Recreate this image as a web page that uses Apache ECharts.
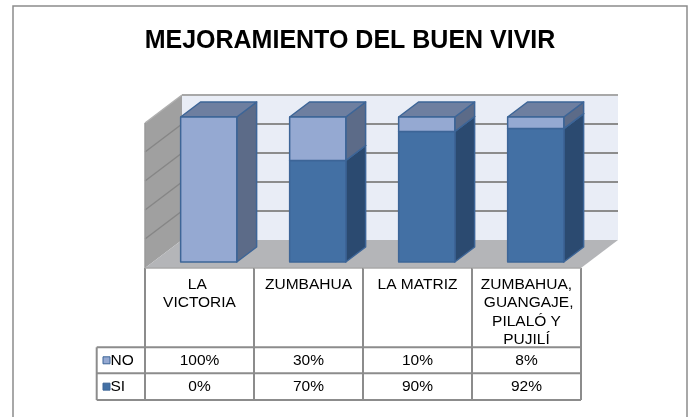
<!DOCTYPE html>
<html>
<head>
<meta charset="utf-8">
<style>html,body{margin:0;padding:0;background:#fff;}#c{width:692px;height:417px;}</style>
<script src="https://cdn.jsdelivr.net/npm/echarts@6/dist/echarts.min.js"></script>
</head>
<body>
<div id="c"></div>
<script>
const titleText = 'MEJORAMIENTO DEL BUEN VIVIR';
const categories = ['LA VICTORIA', 'ZUMBAHUA', 'LA MATRIZ', 'ZUMBAHUA, GUANGAJE, PILALÓ Y PUJILÍ'];
const seriesNames = ['NO', 'SI'];
const noValues = [100, 30, 10, 8];
const siValues = [0, 70, 90, 92];
const yTicks = [0, 20, 40, 60, 80, 100];

const FONT = '"Liberation Sans", Arial, sans-serif';
const D = { x: 37, y: -28 };      // full depth vector of the 3D box
const f0 = 0.214, f1 = 0.75;      // bar depth (front / back) as fraction of box depth
const barFrac = 0.515;
const colors = {
  NO: { front: '#95a9d2', right: '#5c6b88', top: '#6e7fa0' },
  SI: { front: '#4370a4', right: '#2b4a70', top: '#35598a' }
};
const edge = '#3d6597';
const tableLine = '#8c8c8c';

const chart = echarts.init(document.getElementById('c'), null, { renderer: 'canvas' });

function bounds(api) {
  const bw = api.size([1, 0])[0];
  const x0 = api.coord([0, 0])[0] - bw / 2;
  const x1 = api.coord([categories.length - 1, 0])[0] + bw / 2;
  const yb = api.coord([0, yTicks[0]])[1];
  const yt = api.coord([0, yTicks[yTicks.length - 1]])[1];
  return { bw, x0, x1, yb, yt };
}

function renderWalls(params, api) {
  const b = bounds(api);
  const ch = [];
  ch.push({ type: 'polygon', shape: { points: [[b.x0 + D.x, b.yt + D.y], [b.x1 + D.x, b.yt + D.y], [b.x1 + D.x, b.yb + D.y], [b.x0 + D.x, b.yb + D.y]] }, style: { fill: '#e9edf6' } });
  ch.push({ type: 'polygon', shape: { points: [[b.x0, b.yt], [b.x0 + D.x, b.yt + D.y], [b.x0 + D.x, b.yb + D.y], [b.x0, b.yb]] }, style: { fill: '#a0a0a0' } });
  ch.push({ type: 'polygon', shape: { points: [[b.x0, b.yb], [b.x1, b.yb], [b.x1 + D.x, b.yb + D.y], [b.x0 + D.x, b.yb + D.y]] }, style: { fill: '#b4b5b8' } });
  yTicks.forEach(v => {
    if (v === yTicks[0]) return;
    const y = api.coord([0, v])[1];
    const isTop = v === yTicks[yTicks.length - 1];
    ch.push({ type: 'line', shape: { x1: b.x0 + D.x, y1: y + D.y, x2: b.x1 + D.x, y2: y + D.y }, style: { stroke: isTop ? '#a8a8a8' : '#8c8c8c', lineWidth: 2 } });
    ch.push({ type: 'line', shape: { x1: b.x0, y1: y, x2: b.x0 + D.x, y2: y + D.y }, style: { stroke: isTop ? '#b0b0b0' : '#868686', lineWidth: 1.5 } });
  });
  ch.push({ type: 'line', shape: { x1: b.x0, y1: b.yt, x2: b.x0, y2: b.yb }, style: { stroke: '#9a9a9a', lineWidth: 1.5 } });
  return { type: 'group', children: ch };
}

function makeBarRenderer(name) {
  return function (params, api) {
    const i = api.value(0);
    const val = api.value(1);
    if (!(val > 0)) return null;
    const base = name === 'SI' ? 0 : siValues[i];
    const top = base + val;
    const b = bounds(api);
    const xc = api.coord([i, 0])[0];
    const w = b.bw * barFrac;
    const xl = xc - w / 2 + f0 * D.x + 1.3;
    const xr = xl + w;
    const yB = api.coord([i, base])[1] + f0 * D.y;
    const yT = api.coord([i, top])[1] + f0 * D.y;
    const ddx = (f1 - f0) * D.x, ddy = (f1 - f0) * D.y;
    const c = colors[name];
    const st = { stroke: edge, lineWidth: 1.5, lineJoin: 'round' };
    return {
      type: 'group', children: [
        { type: 'polygon', shape: { points: [[xr, yT], [xr + ddx, yT + ddy], [xr + ddx, yB + ddy], [xr, yB]] }, style: Object.assign({ fill: c.right }, st) },
        { type: 'polygon', shape: { points: [[xl, yT], [xr, yT], [xr + ddx, yT + ddy], [xl + ddx, yT + ddy]] }, style: Object.assign({ fill: c.top }, st) },
        { type: 'rect', shape: { x: xl, y: yT, width: w, height: yB - yT }, style: Object.assign({ fill: c.front }, st) }
      ]
    };
  };
}

function renderTable(params, api) {
  const i = api.value(0);
  const b = bounds(api);
  const xc = api.coord([i, 0])[0];
  const L = xc - b.bw / 2, R = xc + b.bw / 2;
  const r1 = b.yb + 79.3, r2 = b.yb + 105.3, r3 = b.yb + 132;
  const ls = { stroke: tableLine, lineWidth: 2 };
  const ch = [];
  ch.push({ type: 'line', shape: { x1: L, y1: b.yb, x2: L, y2: r3 }, style: ls });
  if (i === categories.length - 1) ch.push({ type: 'line', shape: { x1: R, y1: b.yb, x2: R, y2: r3 }, style: ls });
  [r1, r2, r3].forEach(y => ch.push({ type: 'line', shape: { x1: L, y1: y, x2: R, y2: y }, style: ls }));
  ch.push({ type: 'line', shape: { x1: L, y1: b.yb, x2: R, y2: b.yb }, style: { stroke: '#a8a8a8', lineWidth: 1.5 } });
  const ts = { fontSize: 15.5, fontFamily: FONT, fill: '#000', align: 'center', verticalAlign: 'middle' };
  ch.push({ type: 'text', style: Object.assign({ x: xc, y: (r1 + r2) / 2, text: noValues[i] + '%' }, ts) });
  ch.push({ type: 'text', style: Object.assign({ x: xc, y: (r2 + r3) / 2, text: siValues[i] + '%' }, ts) });
  if (i === 0) {
    const LL = 96.7;
    [r1, r2, r3].forEach(y => ch.push({ type: 'line', shape: { x1: LL, y1: y, x2: L, y2: y }, style: ls }));
    ch.push({ type: 'line', shape: { x1: LL, y1: r1, x2: LL, y2: r3 }, style: ls });
    [[seriesNames[0], (r1 + r2) / 2], [seriesNames[1], (r2 + r3) / 2]].forEach(([nm, y]) => {
      ch.push({ type: 'rect', shape: { x: 103, y: y - 3.5, width: 7, height: 7 }, style: { fill: colors[nm].front, stroke: edge, lineWidth: 1 } });
      ch.push({ type: 'text', style: { x: 110.5, y: y, text: nm, fontSize: 15.5, fontFamily: FONT, fill: '#000', align: 'left', verticalAlign: 'middle' } });
    });
  }
  return { type: 'group', children: ch };
}

const option = {
  animation: false,
  backgroundColor: '#ffffff',
  graphic: [
    { type: 'rect', shape: { x: 13, y: 6, width: 674, height: 430 }, style: { fill: 'none', stroke: '#8c8c8c', lineWidth: 1.5 }, z: 0 },
    { type: 'text', style: { x: 350, y: 41, text: titleText, fontSize: 25, fontWeight: 'bold', fontFamily: FONT, fill: '#000', align: 'center', verticalAlign: 'middle' }, z: 10 }
  ],
  grid: { left: 145, right: 111, top: 123, bottom: 149, containLabel: false },
  xAxis: {
    type: 'category', data: categories,
    axisLine: { show: false }, axisTick: { show: false }, splitLine: { show: false },
    axisLabel: { interval: 0, margin: 7, width: 95, overflow: 'break', fontSize: 15.5, lineHeight: 18.5, color: '#000', fontFamily: FONT, verticalAlign: 'top' }
  },
  yAxis: { type: 'value', min: 0, max: 100, interval: 20, show: false },
  series: [
    { type: 'custom', name: 'walls', coordinateSystem: 'cartesian2d', renderItem: renderWalls, data: [[0, 0]], z: 1, silent: true },
    { type: 'custom', name: seriesNames[1], coordinateSystem: 'cartesian2d', renderItem: makeBarRenderer('SI'), data: siValues.map((v, i) => [i, v]), z: 2 },
    { type: 'custom', name: seriesNames[0], coordinateSystem: 'cartesian2d', renderItem: makeBarRenderer('NO'), data: noValues.map((v, i) => [i, v]), z: 3 },
    { type: 'custom', name: 'table', coordinateSystem: 'cartesian2d', renderItem: renderTable, data: categories.map((c, i) => [i, 0]), z: 4, silent: true }
  ]
};
chart.setOption(option);
</script>
</body>
</html>
